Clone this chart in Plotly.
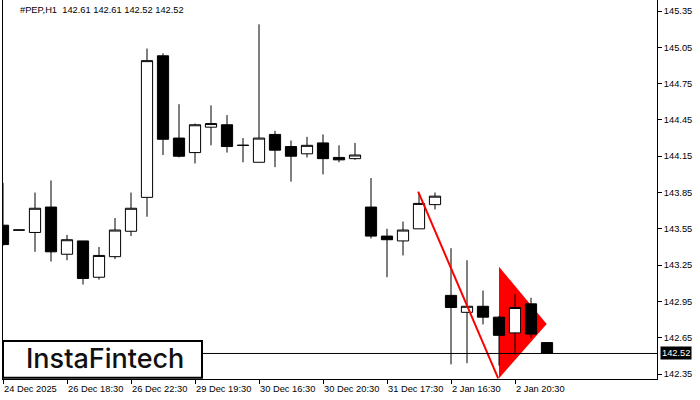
import plotly.graph_objects as go

# ---- data (H1 candles, index based, no time gaps) ----
opens  = [143.58,143.54,143.52,143.73,143.34,143.45,143.15,143.32,143.53,143.81,
          144.98,144.30,144.18,144.39,144.41,144.24,144.10,144.33,144.23,144.17,
          144.26,144.14,144.13,143.73,143.49,143.45,143.55,143.75,143.00,142.86,
          142.91,142.82,142.69,142.93,142.61]
highs  = [143.93,143.54,143.85,143.95,143.50,143.45,143.40,143.64,143.85,145.04,
          145.00,144.58,144.42,144.57,144.49,144.30,145.24,144.36,144.28,144.31,
          144.33,144.24,144.26,143.97,143.55,143.61,143.84,143.85,143.39,143.29,
          143.04,142.83,143.01,142.98,142.61]
lows   = [143.41,143.54,143.36,143.28,143.29,143.09,143.13,143.30,143.49,143.65,
          144.16,144.14,144.09,144.24,144.18,144.10,144.10,144.06,143.94,144.14,
          144.00,144.10,144.12,143.47,143.15,143.33,143.55,143.71,142.43,142.44,
          142.76,142.42,142.51,142.65,142.52]
closes = [143.42,143.54,143.72,143.36,143.46,143.14,143.33,143.54,143.72,144.94,
          144.29,144.15,144.41,144.42,144.23,144.24,144.30,144.20,144.15,144.24,
          144.13,144.12,144.16,143.49,143.46,143.54,143.76,143.82,142.90,142.91,
          142.82,142.67,142.90,142.68,142.52]
bar_index = list(range(len(opens)))

tick_idx = [0, 4, 8, 12, 16, 20, 24, 28, 32]
tick_labels = ["24 Dec 2025", "26 Dec 18:30", "26 Dec 22:30", "29 Dec 19:30",
               "30 Dec 16:30", "30 Dec 20:30", "31 Dec 17:30", "2 Jan 16:30",
               "2 Jan 20:30"]
price_ticks = [142.35, 142.65, 142.95, 143.25, 143.55, 143.85, 144.15, 144.45,
               144.75, 145.05, 145.35]

# bearish pennant pattern
pole_x = [25.95, 30.95]
pole_y = [143.857, 142.315]
pennant_x = [31.0, 31.0, 33.98]
pennant_y = [143.237, 142.315, 142.763]

symbol = "#PEP,H1"

FONT = "Liberation Sans, Arial, sans-serif"
FS = 9.3

fig = go.Figure()

fig.add_trace(go.Candlestick(
    x=bar_index, open=opens, high=highs, low=lows, close=closes,
    increasing=dict(line=dict(color="black", width=1), fillcolor="white"),
    decreasing=dict(line=dict(color="black", width=1), fillcolor="black"),
    whiskerwidth=0, showlegend=False))

fig.add_trace(go.Scatter(x=pole_x, y=pole_y, mode="lines",
                         line=dict(color="#ff0000", width=2),
                         hoverinfo="skip", showlegend=False))

last = closes[-1]

annotations = []
for i, lab in zip(tick_idx, tick_labels):
    annotations.append(dict(x=i, xref="x", y=0, yref="paper", text=lab,
                            xanchor="left", yanchor="top", xshift=-1, yshift=-3,
                            showarrow=False, font=dict(family=FONT, size=FS, color="black")))

title_txt = "%s\u00a0\u00a0%.2f %.2f %.2f %.2f" % (symbol, opens[-1], highs[-1], lows[-1], closes[-1])
annotations.append(dict(x=15/654, xref="paper", y=1-10/379, yref="paper", text=title_txt,
                        xanchor="left", yanchor="middle", showarrow=False,
                        font=dict(family=FONT, size=FS, color="black")))

annotations.append(dict(x=1, xref="paper", y=last, yref="y", text="%.2f" % last,
                        xanchor="left", yanchor="middle", xshift=3, showarrow=False,
                        bgcolor="black", borderpad=1,
                        font=dict(family=FONT, size=FS, color="white")))

annotations.append(dict(x=102/654, xref="paper", y=0.055, yref="paper", text="InstaFintech",
                        xanchor="center", yanchor="middle", showarrow=False,
                        font=dict(family="Inter", size=27, color="#111111", weight=500)))

pennant_path = "M " + " L ".join("%s,%s" % (px, py) for px, py in zip(pennant_x, pennant_y)) + " Z"

shapes = [
    dict(type="path", xref="x", yref="y", path=pennant_path,
         fillcolor="#ff0000", line=dict(width=0), layer="below"),
    dict(type="line", xref="paper", x0=0, x1=1, yref="y", y0=last, y1=last,
         line=dict(color="black", width=1), layer="above"),
    dict(type="rect", xref="paper", x0=0, x1=199/654, yref="paper", y0=0.003, y1=38/379,
         line=dict(color="black", width=2), fillcolor="white", layer="above"),
]

fig.update_layout(
    width=700, height=400,
    margin=dict(l=3, r=43, t=0, b=21, autoexpand=False),
    paper_bgcolor="white", plot_bgcolor="white",
    showlegend=False,
    boxgap=0.3, boxgroupgap=0,
    annotations=annotations, shapes=shapes,
    xaxis=dict(range=[0, 40.875], showgrid=False, zeroline=False,
               showline=True, linecolor="black", linewidth=1,
               tickmode="array", tickvals=tick_idx, ticktext=[""] * len(tick_idx),
               ticks="outside", ticklen=4, tickcolor="black",
               rangeslider=dict(visible=False), fixedrange=True),
    yaxis=dict(side="right", range=[142.309, 145.441], showgrid=False, zeroline=False,
               showline=True, linecolor="black", linewidth=1, mirror=True,
               tickmode="array", tickvals=price_ticks,
               ticktext=["%.2f" % v for v in price_ticks],
               ticks="outside", ticklen=4, tickcolor="black",
               tickfont=dict(family=FONT, size=FS, color="black"),
               automargin=False, fixedrange=True),
)

fig.write_html("out.html", config={"displayModeBar": False},
               post_script="document.body.style.margin='0';")
